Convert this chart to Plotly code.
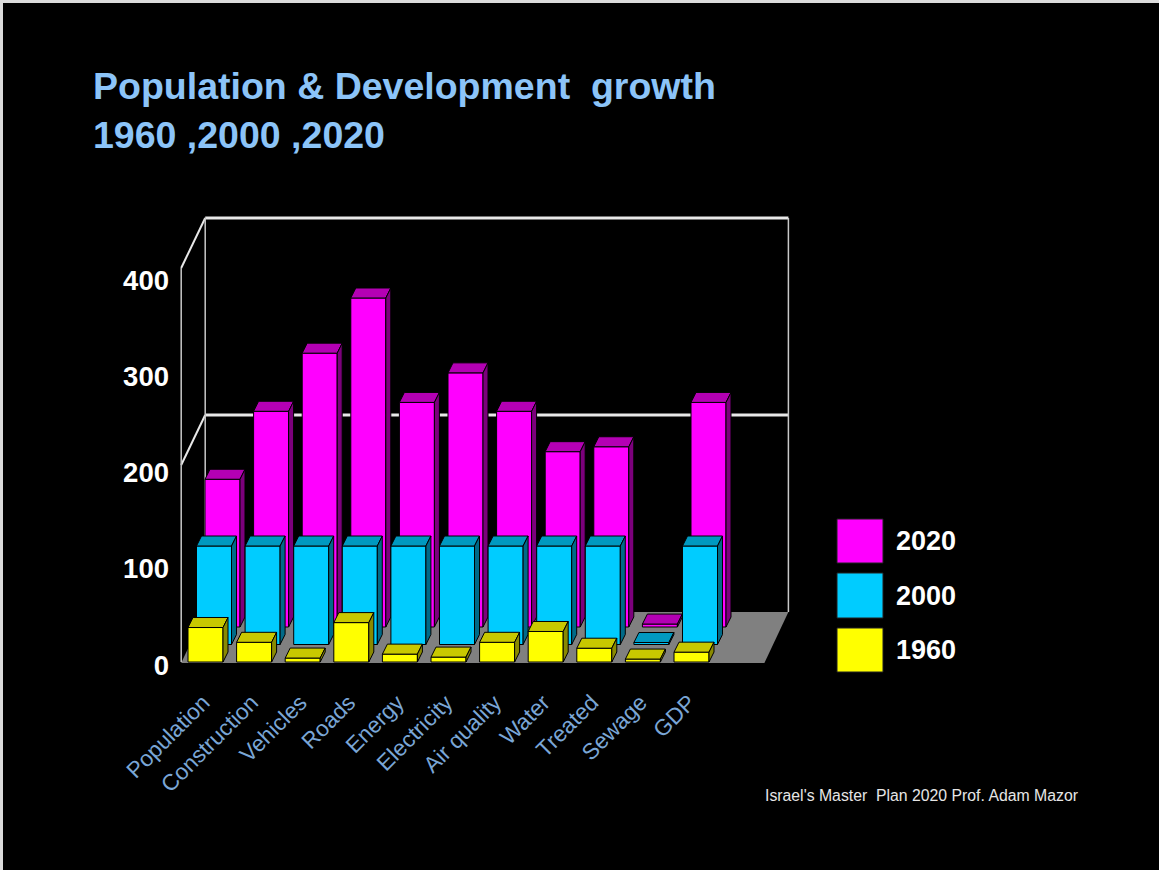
import plotly.graph_objects as go

# ---------------- data ----------------
categories = ["Population", "Construction", "Vehicles", "Roads", "Energy",
              "Electricity", "Air quality", "Water", "Treated", "Sewage", "GDP"]
years = ["1960", "2000", "2020"]
v1960 = [35, 20, 4, 40, 8, 5, 20, 31, 14, 3, 10]
v2000 = [100, 100, 100, 100, 100, 100, 100, 100, 100, 2, 100]
v2020 = [150, 219, 278, 334, 228, 258, 219, 178, 183, 3, 228]
y_ticks = [0, 100, 200, 300, 400]

# ---------------- styling / geometry ----------------
W, H = 1159, 870
L, R, T, B = 170, 1000, 180, 684          # plot area in pixels
XPX = 48.6                                 # pixels per category
YPX = 0.985                                # pixels per value unit (bars)
LPX = 0.9625                               # pixels per value unit (tick-label plane)
X_RANGE = [(L - 205.5) / XPX, (R - 205.5) / XPX]
Y_RANGE = [(662 - B) / YPX, (662 - T) / YPX]
Y2_RANGE = [(665 - B) / LPX, (665 - T) / LPX]

ROW_DX, ROW_DY = 8.5 / XPX, 17.5 / YPX     # offset between series rows (depth)
BAR_DX, BAR_DY = 5.0 / XPX, 10.0 / YPX     # depth of one bar
WALL_DX, WALL_DY = 24.0 / XPX, 50.0 / YPX  # depth of the floor / back wall
HW = 0.36                                  # half bar width (category units)
N_SLOTS = 12                               # floor slots (last one empty)

colors = {
    "1960": ("#FFFF00", "#C8C800", "#8A8A00"),
    "2000": ("#00CCFF", "#0099C0", "#006A88"),
    "2020": ("#FF00FF", "#B400B4", "#7C007C"),
}
values = {"1960": v1960, "2000": v2000, "2020": v2020}


def pxx(px):
    return (px - L) / (R - L)


def pxy(py):
    return (B - py) / (B - T)


fig = go.Figure()

# draw rows back to front
for row, yr in reversed(list(enumerate(years))):
    front, top, side = colors[yr]
    vals = values[yr]
    xc = [i + row * ROW_DX for i in range(len(categories))]
    base = row * ROW_DY
    z = 2 - row
    fig.add_trace(go.Bar(
        x=xc, y=vals, base=[base] * len(vals), width=2 * HW,
        marker=dict(color=front, line=dict(color="black", width=1)),
        name=yr, showlegend=False, zorder=z, hoverinfo="skip"))
    tx, ty, sx, sy = [], [], [], []
    for x0, v in zip(xc, vals):
        yt = base + v
        tx += [x0 - HW, x0 + HW, x0 + HW + BAR_DX, x0 - HW + BAR_DX, x0 - HW, None]
        ty += [yt, yt, yt + BAR_DY, yt + BAR_DY, yt, None]
        sx += [x0 + HW, x0 + HW + BAR_DX, x0 + HW + BAR_DX, x0 + HW, x0 + HW, None]
        sy += [base, base + BAR_DY, yt + BAR_DY, yt, base, None]
    fig.add_trace(go.Scatter(x=tx, y=ty, mode="lines", fill="toself", fillcolor=top,
                             line=dict(color="black", width=1), showlegend=False,
                             zorder=z, hoverinfo="skip"))
    fig.add_trace(go.Scatter(x=sx, y=sy, mode="lines", fill="toself", fillcolor=side,
                             line=dict(color="black", width=1), showlegend=False,
                             zorder=z, hoverinfo="skip"))

# carrier for the value-axis labels
fig.add_trace(go.Scatter(x=[None], y=[None], yaxis="y2", mode="markers",
                         showlegend=False, hoverinfo="skip"))

shapes = []
# floor
fx0, fx1 = -0.5, N_SLOTS - 0.5
shapes.append(dict(type="path", xref="x", yref="y", layer="below",
                   path=f"M {fx0},-1 L {fx1},-1 L {fx1 + WALL_DX},{WALL_DY} L {fx0 + WALL_DX},{WALL_DY} Z",
                   fillcolor="#808080", line=dict(width=0)))
# walls
top_v = y_ticks[-1]
grid_v = 200
for gv, w in [(top_v, 3), (grid_v, 3)]:
    shapes.append(dict(type="line", xref="x", yref="y", layer="below",
                       x0=fx0 + WALL_DX, x1=fx1 + WALL_DX, y0=gv + WALL_DY, y1=gv + WALL_DY,
                       line=dict(color="#E8E8E8", width=w)))
    shapes.append(dict(type="line", xref="x", yref="y", layer="below",
                       x0=fx0, x1=fx0 + WALL_DX, y0=gv, y1=gv + WALL_DY,
                       line=dict(color="#E8E8E8", width=2)))
for xx, yb, yt in [(fx0, 0, top_v), (fx0 + WALL_DX, WALL_DY, top_v + WALL_DY),
                   (fx1 + WALL_DX, WALL_DY, top_v + WALL_DY)]:
    shapes.append(dict(type="line", xref="x", yref="y", layer="below",
                       x0=xx, x1=xx, y0=yb, y1=yt,
                       line=dict(color="#C8C8C8", width=1.5)))

# slide frame (top / left light strip)
shapes.append(dict(type="rect", xref="paper", yref="paper", layer="above",
                   x0=pxx(0), x1=pxx(W), y0=pxy(3), y1=pxy(0),
                   fillcolor="#DCDCDC", line=dict(width=0)))
shapes.append(dict(type="rect", xref="paper", yref="paper", layer="above",
                   x0=pxx(0), x1=pxx(3), y0=pxy(H), y1=pxy(0),
                   fillcolor="#DCDCDC", line=dict(width=0)))

annotations = []
# legend
leg = [("2020", 519, 563), ("2000", 573, 618), ("1960", 628, 672)]
for yr, y0, y1 in leg:
    shapes.append(dict(type="rect", xref="paper", yref="paper",
                       x0=pxx(837), x1=pxx(883), y0=pxy(y1), y1=pxy(y0),
                       fillcolor=colors[yr][0], line=dict(color="#202020", width=1)))
    annotations.append(dict(text=yr, xref="paper", yref="paper",
                            x=pxx(894), y=pxy((y0 + y1) / 2), xanchor="left", yanchor="middle",
                            showarrow=False,
                            font=dict(family="Liberation Sans", size=27, color="white",
                                      weight="bold")))

# title
title_font = dict(family="Liberation Sans", size=37.5, color="#8CC4F8", weight="bold")
annotations.append(dict(text="Population & Development  growth", xref="paper", yref="paper",
                        x=pxx(91), y=pxy(86), xanchor="left", yanchor="middle",
                        showarrow=False, font=title_font))
annotations.append(dict(text="1960 ,2000 ,2020", xref="paper", yref="paper",
                        x=pxx(91), y=pxy(135), xanchor="left", yanchor="middle",
                        showarrow=False, font=title_font))
# footnote
annotations.append(dict(text="Israel's Master  Plan 2020 Prof. Adam Mazor", xref="paper",
                        yref="paper", x=pxx(763), y=pxy(795), xanchor="left",
                        yanchor="middle", showarrow=False,
                        font=dict(family="Liberation Sans", size=15.8, color="#E6E6E6")))

fig.update_layout(
    width=W, height=H,
    margin=dict(l=L, r=W - R, t=T, b=H - B, pad=0),
    paper_bgcolor="black", plot_bgcolor="black",
    barmode="overlay", showlegend=False,
    shapes=shapes, annotations=annotations,
    xaxis=dict(range=X_RANGE, tickvals=[i - 0.05 for i in range(len(categories))],
               ticktext=categories, tickangle=-45, showgrid=False, zeroline=False,
               showline=False, ticks="",
               tickfont=dict(family="Liberation Sans", size=22.5, color="#7AA6D6")),
    yaxis=dict(range=Y_RANGE, showgrid=False, zeroline=False, showline=False,
               showticklabels=False, ticks=""),
    yaxis2=dict(range=Y2_RANGE, overlaying="y", side="left", tickvals=y_ticks,
                showgrid=False, zeroline=False, showline=False, ticks="",
                tickfont=dict(family="Liberation Sans", size=27.5, color="white",
                              weight="bold")),
)

fig.write_html("out.html")
